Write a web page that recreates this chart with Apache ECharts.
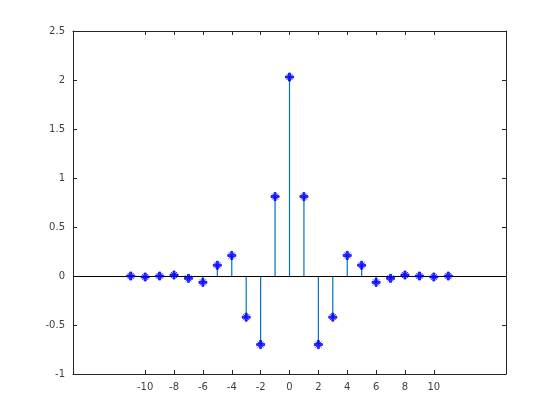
<!DOCTYPE html>
<html><head><meta charset="utf-8">
<script src="https://cdn.jsdelivr.net/npm/echarts@6/dist/echarts.min.js"></script>
<style>html,body{margin:0;padding:0;background:#fff}#c{width:560px;height:420px}</style>
</head><body><div id="c"></div>
<script>
const nValues = [-11,-10,-9,-8,-7,-6,-5,-4,-3,-2,-1,0,1,2,3,4,5,6,7,8,9,10,11];
const stemValues = [0.0,-0.01,0.0,0.01,-0.024,-0.065,0.11,0.21,-0.42,-0.70,0.81,2.03,0.81,-0.70,-0.42,0.21,0.11,-0.065,-0.024,0.01,0.0,-0.01,0.0];
const xTicks = [-10,-8,-6,-4,-2,0,2,4,6,8,10];
const yTicks = [-1,-0.5,0,0.5,1,1.5,2,2.5];

const pts = nValues.map((n,i)=>[n, stemValues[i]]);
const chart = echarts.init(document.getElementById('c'), null, {renderer:'canvas'});
const axisCol = '#262626';
const font = {fontFamily:'DejaVu Sans', fontSize:10, color:'#404040'};
chart.setOption({
  animation:false,
  backgroundColor:'#fff',
  grid:{left:73,right:54,top:31,bottom:46,containLabel:false},
  xAxis:[{
    type:'value', min:-15, max:15, position:'bottom',
    axisLine:{show:true,onZero:false,lineStyle:{color:axisCol,width:1}},
    axisTick:{show:true,inside:true,length:4,customValues:xTicks,lineStyle:{color:axisCol}},
    axisLabel:Object.assign({show:true,customValues:xTicks,margin:8}, font),
    splitLine:{show:false}
  },{
    type:'value', min:-15, max:15, position:'top',
    axisLine:{show:true,onZero:false,lineStyle:{color:axisCol,width:1}},
    axisTick:{show:true,inside:true,length:4,customValues:xTicks,lineStyle:{color:axisCol}},
    axisLabel:{show:false},
    splitLine:{show:false}
  }],
  yAxis:[{
    type:'value', min:-1, max:2.5, interval:0.5, position:'left',
    axisLine:{show:true,onZero:false,lineStyle:{color:axisCol,width:1}},
    axisTick:{show:true,inside:true,length:4,customValues:yTicks,lineStyle:{color:axisCol}},
    axisLabel:Object.assign({show:true,customValues:yTicks,margin:8,formatter:v=>String(v)}, font),
    splitLine:{show:false}
  },{
    type:'value', min:-1, max:2.5, interval:0.5, position:'right',
    axisLine:{show:true,onZero:false,lineStyle:{color:axisCol,width:1}},
    axisTick:{show:true,inside:true,length:4,customValues:yTicks,lineStyle:{color:axisCol}},
    axisLabel:{show:false},
    splitLine:{show:false}
  }],
  series:[{
    type:'custom',
    xAxisIndex:0,yAxisIndex:0,
    data:pts,
    renderItem:function(params, api){
      const p0 = api.coord([api.value(0), 0]);
      const p1 = api.coord([api.value(0), api.value(1)]);
      return {type:'line', shape:{x1:p0[0],y1:p0[1],x2:p1[0],y2:p1[1]}, style:{stroke:'#0072BD',lineWidth:1.2}};
    },
    z:2
  },{
    type:'scatter',
    xAxisIndex:0,yAxisIndex:0,
    data:pts,
    symbol:'path://M3,0H5V3H8V5H5V8H3V5H0V3H3Z M1,1L7,7 M7,1L1,7',
    symbolSize:8,
    itemStyle:{color:'#0000ff',borderColor:'#0000ff',borderWidth:1},
    z:4,
    markLine:{
      silent:true, symbol:['none','none'],
      label:{show:false},
      lineStyle:{color:'#000',width:1,type:'solid'},
      data:[{yAxis:0}],
      z:3
    }
  }]
});
</script></body></html>
